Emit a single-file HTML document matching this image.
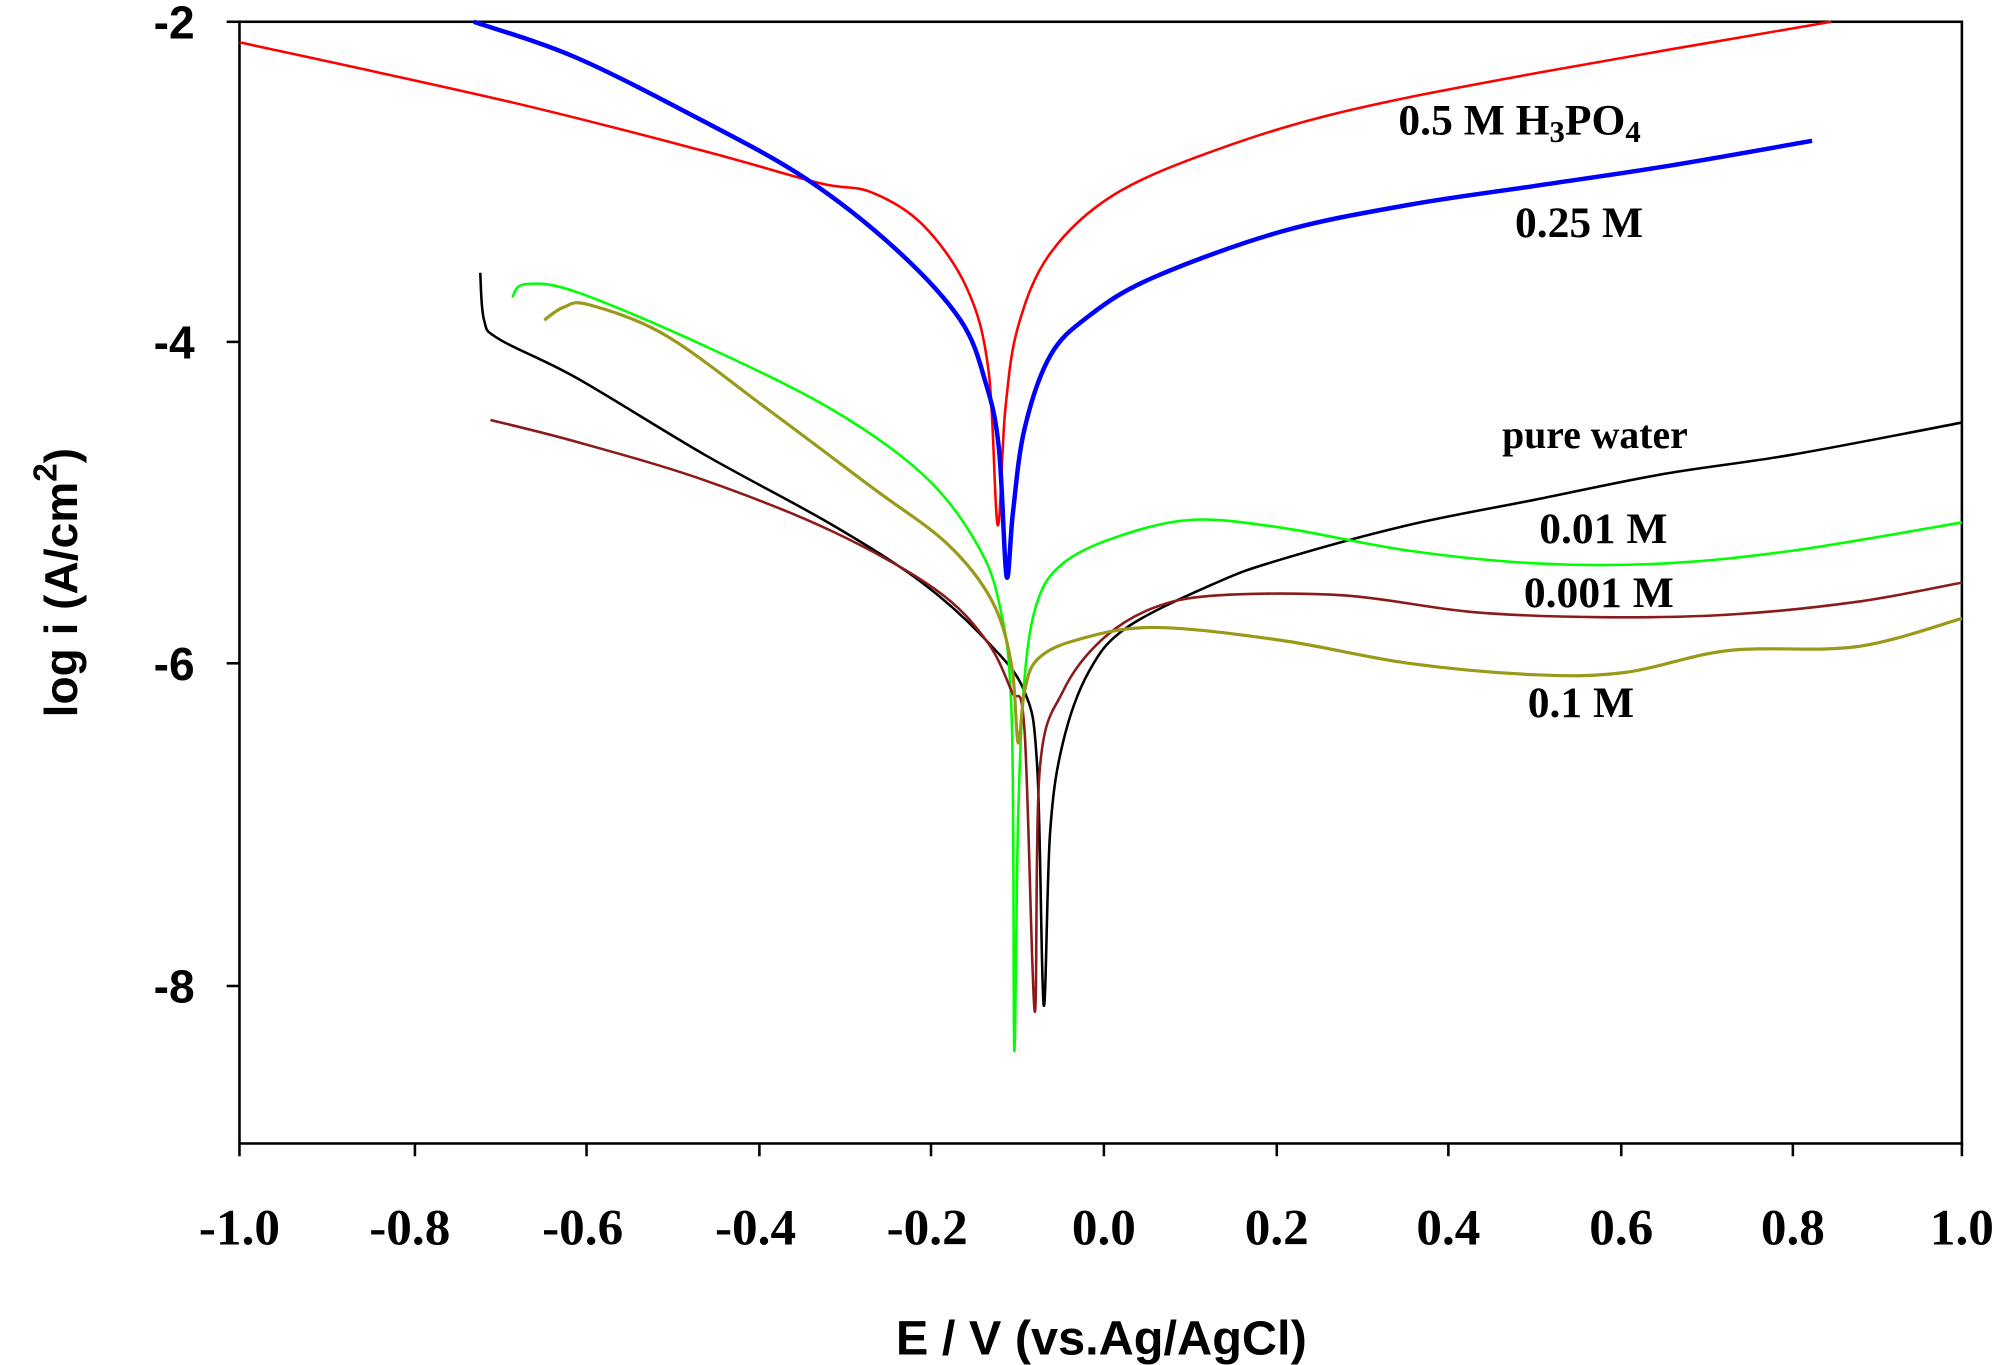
<!DOCTYPE html>
<html><head><meta charset="utf-8"><style>html,body{margin:0;padding:0;background:#fff}svg{display:block}</style></head>
<body>
<svg id="s" width="2008" height="1365" viewBox="0 0 1568 1066" preserveAspectRatio="none" xmlns="http://www.w3.org/2000/svg">
<rect x="187" y="17" width="1345" height="876" fill="none" stroke="#000" stroke-width="2"/>
<g stroke="#000" stroke-width="2">
<line x1="187" y1="893" x2="187" y2="903"/><line x1="324" y1="893" x2="324" y2="903"/><line x1="458" y1="893" x2="458" y2="903"/><line x1="593" y1="893" x2="593" y2="903"/><line x1="727" y1="893" x2="727" y2="903"/><line x1="862" y1="893" x2="862" y2="903"/><line x1="997" y1="893" x2="997" y2="903"/><line x1="1131" y1="893" x2="1131" y2="903"/><line x1="1266" y1="893" x2="1266" y2="903"/><line x1="1400" y1="893" x2="1400" y2="903"/><line x1="1532" y1="893" x2="1532" y2="903"/>
<line x1="177" y1="17" x2="187" y2="17"/><line x1="177" y1="267" x2="187" y2="267"/><line x1="177" y1="518" x2="187" y2="518"/><line x1="177" y1="770" x2="187" y2="770"/>
</g>
<g font-family="Liberation Serif, serif" font-weight="bold" font-size="40" text-anchor="middle">
<text x="187" y="972">-1.0</text><text x="320" y="972">-0.8</text><text x="455" y="972">-0.6</text><text x="590" y="972">-0.4</text><text x="724" y="972">-0.2</text><text x="862" y="972">0.0</text><text x="997" y="972">0.2</text><text x="1131" y="972">0.4</text><text x="1266" y="972">0.6</text><text x="1400" y="972">0.8</text><text x="1532" y="972">1.0</text>
</g>
<g font-family="Liberation Sans, sans-serif" font-weight="bold" font-size="36" text-anchor="end">
<text x="152" y="30">-2</text><text x="152" y="280">-4</text><text x="152" y="531">-6</text><text x="152" y="783">-8</text>
</g>
<text x="860" y="1058" font-family="Liberation Sans, sans-serif" font-weight="bold" font-size="38" text-anchor="middle">E / V (vs.Ag/AgCl)</text>
<text transform="translate(60,455) rotate(-90)" font-family="Liberation Sans, sans-serif" font-weight="bold" font-size="36" text-anchor="middle">log i (A/cm<tspan dy="-16" font-size="26">2</tspan><tspan dy="16">)</tspan></text>
<g id="curves" fill="none" stroke-linejoin="round">
<polyline stroke="#ff0000" stroke-width="2" points="187,33 400,80 550,118 640,143 680,150 720,175 755,225 772,290 779,410 785,320 795,255 820,198 870,152 950,117 1050,87 1200,57 1430,17"/>
<polyline stroke="#0000ff" stroke-width="3.5" points="370,17 450,45 550,95 630,140 700,195 750,250 770,300 780,350 786,450 791,400 800,335 820,278 850,247 900,217 1000,181 1100,160 1200,145 1300,130 1415,110"/>
<polyline stroke="#000" stroke-width="2" points="375,213 378,250 390,265 450,295 550,355 650,410 720,455 770,500 800,540 810,600 815,785 820,650 830,580 850,525 880,490 950,455 1000,437 1100,410 1200,390 1300,370 1400,355 1532,330"/>
<polyline stroke="#00ff00" stroke-width="2" points="400,232 410,222 450,228 550,270 650,320 720,370 760,420 780,470 790,560 792,820 795,640 800,530 810,470 830,440 870,420 930,406 1000,412 1100,430 1200,440 1300,440 1400,430 1532,408"/>
<polyline stroke="#8b1a1a" stroke-width="2" points="383,328 450,345 550,375 650,415 730,460 770,500 790,540 800,570 808,790 812,600 830,540 860,500 900,475 950,465 1050,465 1150,478 1250,482 1350,480 1450,470 1532,455"/>
<polyline stroke="#9a9a1a" stroke-width="2.5" points="425,250 440,240 460,238 520,262 600,320 680,380 740,425 775,470 790,520 795,580 800,540 810,515 840,500 900,490 1000,500 1100,518 1200,527 1270,525 1350,508 1450,505 1532,483"/>
</g>
<g font-family="Liberation Serif, serif" font-weight="bold" font-size="34">
<text x="1092" y="105">0.5 M H<tspan font-size="24" dy="6">3</tspan><tspan dy="-6">PO</tspan><tspan font-size="24" dy="6">4</tspan></text>
<text x="1183" y="185">0.25 M</text>
<text x="1173" y="350" font-size="31">pure water</text>
<text x="1202" y="424">0.01 M</text>
<text x="1190" y="474">0.001 M</text>
<text x="1193" y="560">0.1 M</text>
</g>
</svg>
<script>
document.querySelectorAll('#curves polyline').forEach(function(pl){
  var p=pl.getAttribute('points').trim().split(/\s+/).map(function(s){return s.split(',').map(Number);});
  var d='M'+p[0][0]+','+p[0][1];
  for(var i=0;i<p.length-1;i++){
    var p0=p[i-1]||p[i],p1=p[i],p2=p[i+1],p3=p[i+2]||p2,t=6;
    var c1x=p1[0]+(p2[0]-p0[0])/t,c1y=p1[1]+(p2[1]-p0[1])/t;
    var c2x=p2[0]-(p3[0]-p1[0])/t,c2y=p2[1]-(p3[1]-p1[1])/t;
    d+=' C'+c1x.toFixed(1)+','+c1y.toFixed(1)+' '+c2x.toFixed(1)+','+c2y.toFixed(1)+' '+p2[0]+','+p2[1];
  }
  var path=document.createElementNS('http://www.w3.org/2000/svg','path');
  path.setAttribute('d',d);
  path.setAttribute('stroke',pl.getAttribute('stroke'));
  path.setAttribute('stroke-width',pl.getAttribute('stroke-width'));
  pl.parentNode.replaceChild(path,pl);
});
</script>
</body></html>
